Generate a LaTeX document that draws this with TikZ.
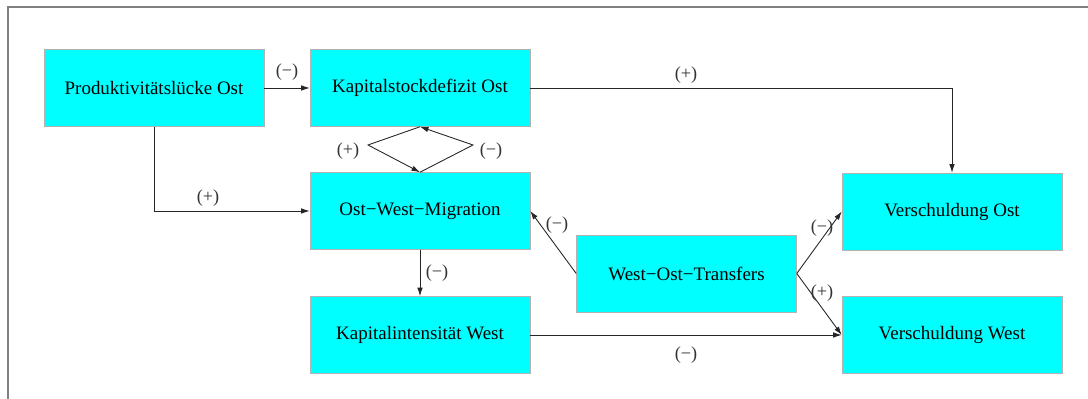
\documentclass[tikz,border=0pt]{standalone}
\usepackage{fontspec}
\setmainfont{Liberation Serif}
\usetikzlibrary{arrows.meta}
\definecolor{boxcyan}{RGB}{0,255,255}
\tikzset{
  box/.style={fill=boxcyan,draw=gray!60,line width=0.3pt,minimum width=4.4cm,
    minimum height=1.54cm,inner sep=0pt,font=\fontsize{10.8}{13}\selectfont},
  sign/.style={font=\fontsize{10.4}{12}\selectfont,inner sep=1pt,text=black!80},
  link/.style={draw=black!85,line width=0.5pt,-{Latex[length=1.7mm,width=1.1mm]}}
}
\begin{document}
\begin{tikzpicture}
    \useasboundingbox (0,0) rectangle (21.76,7.98);
    % frame
    \draw[gray,line width=0.8pt] (0.16,0) -- (0.16,7.84) -- (21.76,7.84);
    % boxes
    \node[box] (prod)   at (3.08,6.22)  {Produktivitätslücke Ost};
    \node[box] (kap)    at (8.40,6.22)  {Kapitalstockdefizit Ost};
    \node[box] (mig)    at (8.40,3.76)  {Ost−West−Migration};
    \node[box] (kapint) at (8.40,1.28)  {Kapitalintensität West};
    \node[box] (trans)  at (13.73,2.51) {West−Ost−Transfers};
    \node[box] (vost)   at (19.04,3.75) {Verschuldung Ost};
    \node[box] (vwest)  at (19.04,1.28) {Verschuldung West};
    % diamond corners
    \coordinate (dl) at (7.36,5.08);
    \coordinate (dr) at (9.46,5.08);
    % links
    \draw[link] (prod) -- (kap);
    \draw[link] (kap.east) -| (vost.north);
    \draw[link] (prod.south) |- (mig.west);
    \draw[link] (kap.south) -- (dl) -- (mig.north);
    \draw[link] (mig.north) -- (dr) -- (kap.south);
    \draw[link] (mig) -- (kapint);
    \draw[link] (trans.west) -- (mig.east);
    \draw[link] (trans.east) -- (vost.west);
    \draw[link] (trans.east) -- (vwest.west);
    \draw[link] (kapint) -- (vwest);
    % signs
    \node[sign] (s1) at (5.74,6.54)  {(−)};
    \node[sign] (s2) at (13.72,6.48) {(+)};
    \node[sign] (s3) at (4.16,4.02)  {(+)};
    \node[sign] (s4) at (6.96,4.96)  {(+)};
    \node[sign] (s5) at (9.82,4.96)  {(−)};
    \node[sign] (s6) at (8.74,2.52)  {(−)};
    \node[sign] (s7) at (11.14,3.48) {(−)};
    \node[sign] (s8) at (16.44,3.42) {(−)};
    \node[sign] (s9) at (16.44,2.12) {(+)};
    \node[sign] (s10) at (13.72,0.88) {(−)};
\end{tikzpicture}
\end{document}
